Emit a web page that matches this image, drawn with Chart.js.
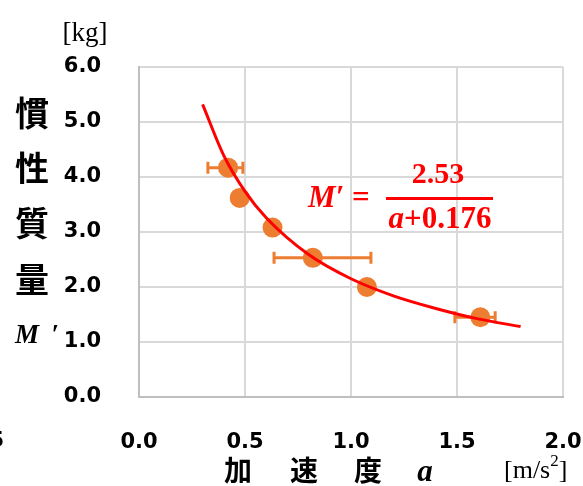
<!DOCTYPE html>
<html><head><meta charset="utf-8">
<script src="https://cdn.jsdelivr.net/npm/chart.js@4"></script>
<style>html,body{margin:0;padding:0;background:#fff}#wrap{width:583px;height:486px;position:relative}</style>
</head><body><div id="wrap"><canvas id="c" width="583" height="486"></canvas></div>
<script>
// measured data (acceleration a [m/s^2], inertial mass M' [kg])
const accel = [0.42, 0.475, 0.63, 0.82, 1.075, 1.61];
const mass = [4.17, 3.62, 3.08, 2.53, 2.00, 1.45];
// horizontal error bars (low / high of a); null = none visible
const errLow = [0.325, null, null, 0.637, null, 1.49];
const errHigh = [0.49, null, null, 1.094, null, 1.68];
// fitted curve
const curveA = [0.30, 0.40, 0.50, 0.60, 0.80, 1.00, 1.20, 1.40, 1.60, 1.80];
const curveM = [5.32, 4.39, 3.74, 3.26, 2.59, 2.15, 1.84, 1.61, 1.42, 1.28];
// tick values
const xTicks = [0.0, 0.5, 1.0, 1.5, 2.0];
const yTicks = [0, 1, 2, 3, 4, 5, 6];

const ORANGE = '#ed7d31', RED = '#ff0000';
const tickFont = {family: 'DejaVu Sans', size: 21, weight: 'bold'};

const errorBars = {
  id: 'errorBars',
  beforeDatasetsDraw(chart) {
    const ctx = chart.ctx, xs = chart.scales.x, ys = chart.scales.y;
    ctx.save();
    ctx.strokeStyle = ORANGE; ctx.lineWidth = 3;
    for (let i = 0; i < accel.length; i++) {
      if (errLow[i] == null) continue;
      const y = ys.getPixelForValue(mass[i]);
      const x1 = xs.getPixelForValue(errLow[i]), x2 = xs.getPixelForValue(errHigh[i]);
      ctx.beginPath();
      ctx.moveTo(x1, y); ctx.lineTo(x2, y);
      ctx.moveTo(x1, y - 6); ctx.lineTo(x1, y + 6);
      ctx.moveTo(x2, y - 6); ctx.lineTo(x2, y + 6);
      ctx.stroke();
    }
    ctx.restore();
  }
};

const labels = {
  id: 'labels',
  afterDraw(chart) {
    const ctx = chart.ctx;
    ctx.save();
    ctx.fillStyle = '#000';
    ctx.textAlign = 'center'; ctx.textBaseline = 'middle';
    ctx.font = 'bold 34px "Noto Sans CJK JP"';
    [['慣', 113], ['性', 168], ['質', 223], ['量', 279]].forEach(([t, y]) => ctx.fillText(t, 32, y));
    ctx.font = 'bold 28px "Noto Sans CJK JP"';
    [['加', 238], ['速', 304], ['度', 368]].forEach(([t, x]) => ctx.fillText(t, x, 470));
    ctx.textBaseline = 'alphabetic';
    ctx.font = 'italic bold 27px "Liberation Serif"';
    ctx.fillText('M', 27, 343);
    ctx.fillText('′', 55, 343);
    ctx.font = 'italic bold 31px "Liberation Serif"';
    ctx.fillText('a', 425, 481);
    ctx.font = '27px "Liberation Serif"';
    ctx.fillText('[kg]', 85, 41);
    ctx.textAlign = 'left';
    ctx.font = '26px "Liberation Serif"';
    ctx.fillText('[m/s', 504, 478);
    let w = ctx.measureText('[m/s').width;
    ctx.font = '17px "Liberation Serif"';
    ctx.fillText('2', 504 + w, 466);
    let w2 = ctx.measureText('2').width;
    ctx.font = '26px "Liberation Serif"';
    ctx.fillText(']', 504 + w + w2, 478);
    // fragment at the far left edge
    ctx.font = tickFont.weight + ' ' + tickFont.size + 'px "DejaVu Sans"';
    ctx.textAlign = 'right';
    ctx.fillText('5', 4, 447);
    // equation
    ctx.fillStyle = RED;
    ctx.textAlign = 'left';
    ctx.font = 'italic bold 31px "Liberation Serif"';
    ctx.fillText('M′', 308, 207);
    ctx.font = 'bold 31px "Liberation Serif"';
    ctx.fillText('=', 352, 207);
    ctx.textAlign = 'center';
    ctx.font = 'bold 30px "Liberation Serif"';
    ctx.fillText('2.53', 438, 183);
    ctx.fillRect(386, 197, 107, 3);
    ctx.font = 'italic bold 31px "Liberation Serif"';
    const wa = ctx.measureText('a').width;
    ctx.font = 'bold 31px "Liberation Serif"';
    const wr = ctx.measureText('+0.176').width;
    const sx = 440 - (wa + wr) / 2;
    ctx.textAlign = 'left';
    ctx.font = 'italic bold 31px "Liberation Serif"';
    ctx.fillText('a', sx, 228);
    ctx.font = 'bold 31px "Liberation Serif"';
    ctx.fillText('+0.176', sx + wa, 228);
    ctx.restore();
  }
};

new Chart(document.getElementById('c'), {
  type: 'scatter',
  data: {
    datasets: [
      {
        label: 'fit',
        data: curveA.map((a, i) => ({x: a, y: curveM[i]})),
        showLine: true, borderColor: RED, borderWidth: 3, pointRadius: 0,
        cubicInterpolationMode: 'monotone', fill: false
      },
      {
        label: 'data',
        data: accel.map((a, i) => ({x: a, y: mass[i]})),
        pointRadius: 10, pointBackgroundColor: ORANGE, pointBorderColor: ORANGE,
        pointBorderWidth: 0, showLine: false
      }
    ]
  },
  options: {
    responsive: false, animation: false,
    layout: {padding: {left: 0, right: 20, top: 67, bottom: 0}},
    plugins: {legend: {display: false}, tooltip: {enabled: false}},
    scales: {
      x: {
        type: 'linear', min: 0, max: 2,
        afterBuildTicks(s) { s.ticks = xTicks.map(v => ({value: v})); },
        afterFit(s) { s.height = 89; s.paddingLeft = 0; s.paddingRight = 0; },
        ticks: {font: tickFont, color: '#000', padding: 33, callback: v => v.toFixed(1)},
        grid: {color: '#d9d9d9', lineWidth: 2, drawTicks: false, tickLength: 0},
        border: {color: '#bfbfbf', width: 2}
      },
      y: {
        type: 'linear', min: 0, max: 6,
        afterBuildTicks(s) { s.ticks = yTicks.map(v => ({value: v})); },
        afterFit(s) { s.width = 139; s.paddingTop = 0; s.paddingBottom = 0; },
        ticks: {font: tickFont, color: '#000', padding: 38, callback: v => v.toFixed(1)},
        grid: {color: '#d9d9d9', lineWidth: 2, drawTicks: false, tickLength: 0},
        border: {color: '#bfbfbf', width: 2}
      }
    }
  },
  plugins: [errorBars, labels]
});
</script></body></html>
